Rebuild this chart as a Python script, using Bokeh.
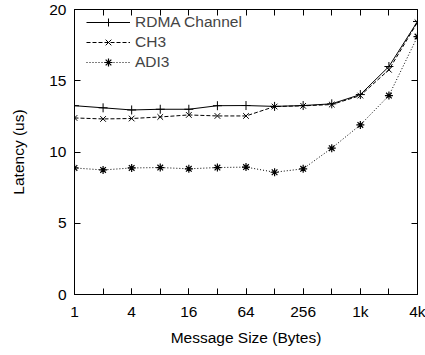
from bokeh.plotting import figure
from bokeh.models import Range1d, FixedTicker, LogAxis, LinearAxis, Legend, LegendItem
from bokeh.embed import file_html
from bokeh.resources import INLINE

sizes = [1, 2, 4, 8, 16, 32, 64, 128, 256, 512, 1024, 2048, 4096]
rdma = [13.25, 13.1, 12.95, 13.0, 13.0, 13.25, 13.26, 13.2, 13.26, 13.38, 14.03, 16.0, 19.16]
ch3 = [12.39, 12.32, 12.35, 12.46, 12.6, 12.53, 12.53, 13.19, 13.24, 13.33, 13.96, 15.77, 19.1]
adi3 = [8.88, 8.74, 8.88, 8.91, 8.82, 8.91, 8.94, 8.58, 8.82, 10.27, 11.9, 13.96, 18.1]
x_major = [1, 4, 16, 64, 256, 1024, 4096]
x_minor = [1, 2, 4, 8, 16, 32, 64, 128, 256, 512, 1024, 2048, 4096]
x_labels = {1: "1", 4: "4", 16: "16", 64: "64", 256: "256", 1024: "1k", 4096: "4k"}
y_ticks = [0, 5, 10, 15, 20]

FONT = "Liberation Sans"
FS = "15.5px"

p = figure(width=425, height=355, x_axis_type="log", output_backend="svg",
           toolbar_location=None, x_range=Range1d(1, 4096), y_range=Range1d(0, 20),
           min_border_left=74, min_border_right=8, min_border_top=9, min_border_bottom=61)
p.xgrid.visible = False
p.ygrid.visible = False
p.outline_line_color = "black"
p.outline_line_width = 1

for ax in p.xaxis:
    ax.ticker = FixedTicker(ticks=x_major, minor_ticks=x_minor)
    ax.major_label_overrides = x_labels
    ax.axis_label = "Message Size (Bytes)"
    ax.minor_tick_in = 6
    ax.minor_tick_out = 0
    ax.minor_tick_line_color = "black"
for ax in p.yaxis:
    ax.ticker = FixedTicker(ticks=y_ticks, minor_ticks=[])
    ax.axis_label = "Latency (us)"
    ax.minor_tick_in = 0
    ax.minor_tick_out = 0

for ax in list(p.xaxis) + list(p.yaxis):
    ax.major_tick_in = 6
    ax.major_tick_out = 0
    ax.axis_line_color = "black"
    ax.major_tick_line_color = "black"
    ax.major_label_text_font = FONT
    ax.major_label_text_font_size = FS
    ax.major_label_text_color = "black"
    ax.axis_label_text_font = FONT
    ax.axis_label_text_font_size = FS
    ax.axis_label_text_font_style = "normal"
    ax.axis_label_text_color = "black"
p.xaxis.major_label_standoff = 8
p.xaxis.axis_label_standoff = 6
p.yaxis.major_label_standoff = 8
p.yaxis.axis_label_standoff = 19

# mirrored tick marks (minor ticks only, so no labels)
top = LogAxis(ticker=FixedTicker(ticks=[], minor_ticks=x_minor), major_tick_in=0, major_tick_out=0,
              minor_tick_in=6, minor_tick_out=0, minor_tick_line_color="black",
              major_label_standoff=0, axis_line_color=None)
right = LinearAxis(ticker=FixedTicker(ticks=[], minor_ticks=y_ticks), major_tick_in=0, major_tick_out=0,
                   minor_tick_in=6, minor_tick_out=0, minor_tick_line_color="black",
                   major_label_standoff=0, axis_line_color=None)
p.add_layout(top, "above")
p.add_layout(right, "right")

r1l = p.line(sizes, rdma, line_color="black", line_width=1)
r1m = p.scatter(sizes, rdma, marker="cross", size=9, line_color="black", line_width=1)
r2l = p.line(sizes, ch3, line_color="black", line_width=1, line_dash="4 2")
r2m = p.scatter(sizes, ch3, marker="x", size=8, line_color="black", line_width=1)
r3l = p.line(sizes, adi3, line_color="black", line_width=1, line_dash="1 2")
r3m = p.scatter(sizes, adi3, marker="asterisk", size=8, line_color="black", line_width=1.2)

legend = Legend(items=[LegendItem(label="RDMA Channel", renderers=[r1l, r1m]),
                       LegendItem(label="CH3", renderers=[r2l, r2m]),
                       LegendItem(label="ADI3", renderers=[r3l, r3m])],
                location=(12, 222), background_fill_alpha=0, border_line_color=None,
                label_text_font=FONT, label_text_font_size=FS, glyph_width=44,
                glyph_height=20, spacing=0, label_height=20, padding=2, margin=0)
p.add_layout(legend, "center")

open("out.html", "w").write(file_html(p, INLINE))
